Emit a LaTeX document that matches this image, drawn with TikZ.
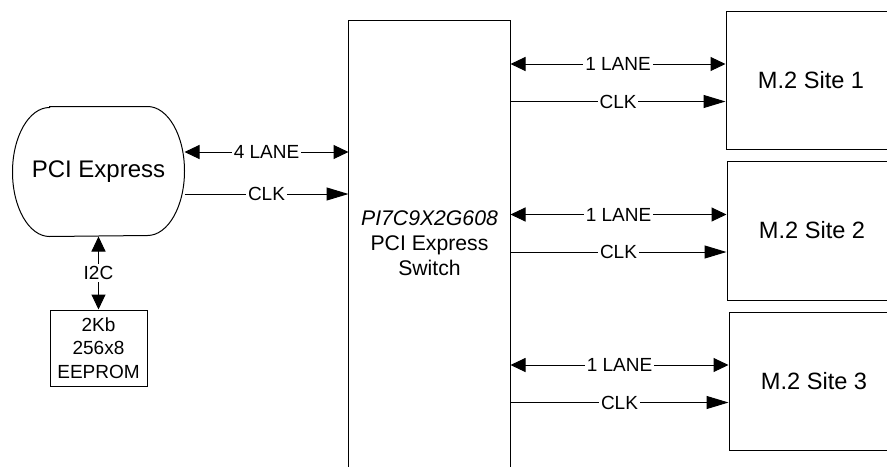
\documentclass[tikz,border=0pt]{standalone}
\usepackage{fontspec}
\setmainfont{Liberation Sans}
\usetikzlibrary{arrows.meta, positioning}

\begin{document}
\begin{tikzpicture}[
    x=0.5pt, y=-0.5pt,
    line width=0.5pt,
    box/.style={rectangle, draw=black, inner sep=0pt, align=center},
    lane/.style={{Triangle[length=7.5pt, width=7pt]}-{Triangle[length=7.5pt, width=7pt]}},
    clk/.style={-{Triangle[length=11pt, width=6.5pt]}},
    lbl/.style={fill=white, inner sep=1pt, font=\fontsize{9.5}{11}\selectfont},
  ]
  \clip (0,0) rectangle (887,466);

  % Root complex and EEPROM
  \node[align=center, minimum width=85.5pt, minimum height=64.5pt, inner sep=0pt,
        font=\fontsize{12}{14}\selectfont] (pcie) at (98.5,171.5) {PCI Express};
  \draw ([xshift=18.5pt]pcie.north west) -- ([xshift=-18.5pt]pcie.north east)
    arc[start angle=90, end angle=-90, x radius=18.5pt, y radius=32.25pt]
    -- ([xshift=18.5pt]pcie.south west)
    arc[start angle=270, end angle=90, x radius=18.5pt, y radius=32.25pt] -- cycle;
  \node[box, minimum width=48.5pt, minimum height=38pt,
        font=\fontsize{9.5}{11.75}\selectfont] (eeprom) at (98.5,348) {2Kb\\256x8\\EEPROM};

  % Switch (runs off the bottom edge)
  \node[minimum width=80.5pt, minimum height=222.5pt, inner sep=0pt, align=center,
        font=\fontsize{10.6}{12.5}\selectfont] (switch) at (429.5,243.5)
        {\textit{PI7C9X2G608}\\PCI Express\\Switch};
  \draw (switch.south west) -- (switch.north west) -- (switch.north east) -- (switch.south east);

  % M.2 sites (cut by the right edge)
  \foreach \n/\x/\y/\h in {1/811/80/69, 2/812/230.5/69.5, 3/814/381/69}
    \node[box, minimum width=85pt, minimum height=\h pt,
          font=\fontsize{11.8}{14}\selectfont] (site\n) at (\x,\y) {M.2 Site \n};

  % Upstream links
  \coordinate (up lane) at ([yshift=9.75pt]pcie.east);
  \coordinate (up clk) at ([yshift=-11.25pt]pcie.east);
  \draw[lane] (up lane) -- (up lane -| switch.west) node[midway, lbl] {4 LANE};
  \draw[clk] (up clk) -- (up clk -| switch.west) node[midway, lbl] {CLK};
  \draw[lane] (pcie.south) -- (eeprom.north) node[midway, lbl] {I2C};

  % Downstream links
  \foreach \n in {1,2,3} {
    \coordinate (lane\n) at ([yshift=8pt]site\n.west);
    \coordinate (clk\n) at ([yshift=-10.75pt]site\n.west);
    \draw[lane] (lane\n -| switch.east) -- (lane\n) node[midway, lbl] {1 LANE};
    \draw[clk] (clk\n -| switch.east) -- (clk\n) node[midway, lbl] {CLK};
  }
\end{tikzpicture}
\end{document}
